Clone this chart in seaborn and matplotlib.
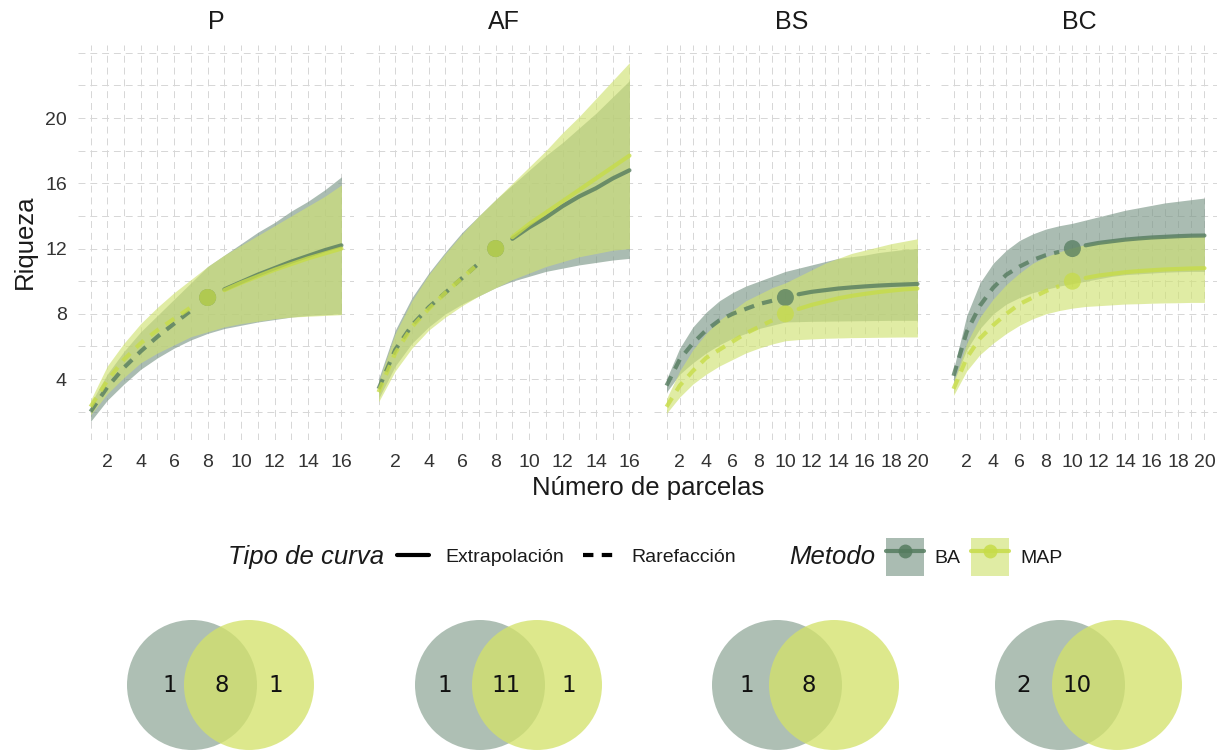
import numpy as np
import pandas as pd
import matplotlib
matplotlib.use("Agg")
import matplotlib.pyplot as plt
import seaborn as sns
from matplotlib.lines import Line2D
from matplotlib.patches import Patch, Circle

# ---------------------------------------------------------------------------
# Data: richness curves (rarefaction / extrapolation) per site and method
# ---------------------------------------------------------------------------
sitios = ["P", "AF", "BS", "BC"]
metodos = ["BA", "MAP"]
parcelas_obs = [8, 8, 10, 10]          # observed number of plots per site

# P  (m = 1..16)
p_ba_est = [2.0, 3.5, 4.7, 5.7, 6.6, 7.4, 8.2, 9.0, 9.5, 9.95, 10.4, 10.8, 11.2, 11.55, 11.9, 12.2]
p_ba_lo = [1.4, 2.7, 3.7, 4.6, 5.3, 5.9, 6.4, 6.8, 7.1, 7.3, 7.5, 7.65, 7.8, 7.9, 7.95, 8.0]
p_ba_hi = [2.5, 4.3, 5.7, 6.9, 7.9, 8.9, 9.9, 10.9, 11.6, 12.3, 13.0, 13.6, 14.3, 14.9, 15.6, 16.4]
p_map_est = [2.3, 3.9, 5.2, 6.2, 7.0, 7.7, 8.4, 9.0, 9.45, 9.9, 10.3, 10.7, 11.05, 11.4, 11.7, 12.0]
p_map_lo = [1.8, 3.1, 4.1, 5.0, 5.6, 6.1, 6.6, 6.9, 7.2, 7.4, 7.55, 7.7, 7.8, 7.85, 7.9, 7.95]
p_map_hi = [2.7, 4.8, 6.2, 7.4, 8.4, 9.3, 10.1, 10.9, 11.6, 12.2, 12.8, 13.4, 14.0, 14.6, 15.2, 15.9]

# AF (m = 1..16)
af_ba_est = [3.4, 5.8, 7.3, 8.4, 9.3, 10.2, 11.1, 12.0, 12.6, 13.3, 13.9, 14.6, 15.2, 15.7, 16.3, 16.8]
af_ba_lo = [2.8, 4.8, 6.2, 7.2, 8.0, 8.6, 9.1, 9.6, 10.0, 10.3, 10.6, 10.8, 11.0, 11.15, 11.3, 11.4]
af_ba_hi = [4.0, 7.0, 9.0, 10.5, 11.8, 13.0, 14.0, 15.0, 15.9, 16.8, 17.7, 18.5, 19.4, 20.3, 21.3, 22.3]
af_map_est = [3.2, 5.6, 7.2, 8.3, 9.3, 10.2, 11.1, 12.0, 12.7, 13.5, 14.2, 14.9, 15.6, 16.3, 17.0, 17.7]
af_map_lo = [2.6, 4.5, 5.9, 7.0, 7.8, 8.5, 9.1, 9.6, 10.1, 10.5, 10.9, 11.2, 11.5, 11.7, 11.9, 12.0]
af_map_hi = [3.8, 6.8, 8.8, 10.4, 11.7, 12.9, 14.0, 15.0, 16.0, 17.0, 18.0, 19.1, 20.1, 21.2, 22.3, 23.4]

# BS (m = 1..20)
bs_ba_est = [3.6, 5.2, 6.2, 7.0, 7.6, 8.0, 8.3, 8.6, 8.8, 9.0,
             9.2, 9.35, 9.45, 9.55, 9.62, 9.68, 9.73, 9.77, 9.8, 9.83]
bs_ba_lo = [3.2, 4.3, 5.0, 5.6, 6.1, 6.5, 6.8, 7.1, 7.3, 7.5,
            7.52, 7.54, 7.55, 7.56, 7.57, 7.58, 7.59, 7.6, 7.6, 7.6]
bs_ba_hi = [4.0, 5.9, 7.2, 8.1, 8.8, 9.3, 9.7, 10.0, 10.3, 10.6,
            10.8, 11.0, 11.2, 11.4, 11.5, 11.6, 11.75, 11.85, 11.95, 12.0]
bs_map_est = [2.3, 3.6, 4.5, 5.3, 5.8, 6.3, 6.8, 7.2, 7.6, 8.0,
              8.3, 8.55, 8.75, 8.95, 9.1, 9.22, 9.33, 9.42, 9.5, 9.55]
bs_map_lo = [1.9, 2.9, 3.7, 4.3, 4.8, 5.2, 5.6, 5.9, 6.15, 6.35,
             6.42, 6.46, 6.5, 6.52, 6.54, 6.55, 6.56, 6.57, 6.58, 6.58]
bs_map_hi = [2.8, 4.5, 5.8, 6.8, 7.6, 8.2, 8.8, 9.2, 9.6, 9.9,
             10.3, 10.7, 11.1, 11.4, 11.7, 11.9, 12.1, 12.3, 12.45, 12.6]

# BC (m = 1..20)
bc_ba_est = [4.2, 6.9, 8.5, 9.6, 10.4, 10.9, 11.3, 11.6, 11.8, 12.0,
             12.2, 12.35, 12.45, 12.55, 12.62, 12.68, 12.72, 12.76, 12.79, 12.8]
bc_ba_lo = [3.8, 5.8, 7.1, 8.0, 8.6, 9.0, 9.3, 9.5, 9.7, 9.85,
            10.0, 10.15, 10.3, 10.4, 10.45, 10.5, 10.55, 10.58, 10.6, 10.6]
bc_ba_hi = [4.6, 7.9, 9.9, 11.1, 11.9, 12.5, 12.9, 13.2, 13.4, 13.55,
            13.75, 13.95, 14.15, 14.35, 14.5, 14.65, 14.8, 14.9, 15.0, 15.1]
bc_map_est = [3.4, 5.3, 6.5, 7.3, 8.0, 8.6, 9.0, 9.4, 9.7, 10.0,
              10.2, 10.35, 10.45, 10.55, 10.62, 10.67, 10.72, 10.75, 10.78, 10.8]
bc_map_lo = [3.0, 4.5, 5.5, 6.2, 6.8, 7.3, 7.7, 8.0, 8.2, 8.35,
             8.45, 8.5, 8.55, 8.6, 8.62, 8.65, 8.67, 8.68, 8.7, 8.7]
bc_map_hi = [3.8, 6.2, 7.8, 8.9, 9.8, 10.5, 11.1, 11.5, 11.8, 12.05,
             12.25, 12.4, 12.5, 12.6, 12.65, 12.7, 12.72, 12.75, 12.78, 12.8]

# Shared species per site (Venn diagrams): only BA, both, only MAP
venn_solo_ba = [1, 1, 1, 2]
venn_ambos = [8, 11, 8, 10]
venn_solo_map = [1, 1, 0, 0]

x_ticks = {"P": [2, 4, 6, 8, 10, 12, 14, 16], "AF": [2, 4, 6, 8, 10, 12, 14, 16],
           "BS": list(range(2, 21, 2)), "BC": list(range(2, 21, 2))}
y_ticks = [4, 8, 12, 16, 20]

series = {
    ("P", "BA"): (p_ba_est, p_ba_lo, p_ba_hi), ("P", "MAP"): (p_map_est, p_map_lo, p_map_hi),
    ("AF", "BA"): (af_ba_est, af_ba_lo, af_ba_hi), ("AF", "MAP"): (af_map_est, af_map_lo, af_map_hi),
    ("BS", "BA"): (bs_ba_est, bs_ba_lo, bs_ba_hi), ("BS", "MAP"): (bs_map_est, bs_map_lo, bs_map_hi),
    ("BC", "BA"): (bc_ba_est, bc_ba_lo, bc_ba_hi), ("BC", "MAP"): (bc_map_est, bc_map_lo, bc_map_hi),
}

rows = []
for sitio, n_obs in zip(sitios, parcelas_obs):
    for met in metodos:
        est, lo, hi = series[(sitio, met)]
        for i, (e, l, h) in enumerate(zip(est, lo, hi)):
            m = i + 1
            tipo = "Rarefacción" if m < n_obs else ("Extrapolación" if m > n_obs else "Observado")
            rows.append(dict(Sitio=sitio, Metodo=met, m=m, qD=e, lo=l, hi=h, Tipo=tipo))
df = pd.DataFrame(rows)

# ---------------------------------------------------------------------------
# Styling
# ---------------------------------------------------------------------------
sns.set_theme(style="white")
plt.rcParams["font.family"] = ["Liberation Sans", "DejaVu Sans"]
plt.rcParams["lines.scale_dashes"] = False

fill_col = {"BA": "#7d9889", "MAP": "#d0e273"}
line_col = {"BA": "#557c5f", "MAP": "#c7dc49"}
band_alpha = 0.65
grid_col = "#d6d6d6"
text_col = "#333333"

fig = plt.figure(figsize=(12.25, 7.54), dpi=100)
W, H = 1225.0, 754.0

panel_left = [78, 366, 654, 941]
panel_w = 276
y_lim = (0.27, 24.5)
y_top_px, y_bot_px = 44.7, 439.9

for k, sitio in enumerate(sitios):
    ax = fig.add_axes([panel_left[k] / W, 1 - y_bot_px / H, panel_w / W, (y_bot_px - y_top_px) / H])
    d = df[df.Sitio == sitio]
    m_max = d.m.max()
    ax.set_xlim(1 - 0.05 * (m_max - 1), m_max + 0.05 * (m_max - 1))
    ax.set_ylim(*y_lim)

    for met in metodos:
        dm = d[d.Metodo == met]
        ax.fill_between(dm.m, dm.lo, dm.hi, color=fill_col[met], alpha=band_alpha, lw=0, zorder=2)

    lines = d[d.Tipo != "Observado"]
    sns.lineplot(data=lines, x="m", y="qD", hue="Metodo", style="Tipo",
                 palette=line_col, hue_order=metodos,
                 dashes={"Extrapolación": "", "Rarefacción": (7.5, 6.0)},
                 style_order=["Extrapolación", "Rarefacción"],
                 estimator=None, sort=True, linewidth=3.0, alpha=0.8,
                 legend=False, ax=ax, zorder=3)
    obs = d[d.Tipo == "Observado"]
    sns.scatterplot(data=obs, x="m", y="qD", hue="Metodo", palette=line_col, hue_order=metodos,
                    s=150, alpha=0.75, linewidth=0, legend=False, ax=ax, zorder=4)

    ax.set_xticks(x_ticks[sitio])
    ax.set_xticks(range(1, m_max + 1), minor=True)
    ax.set_yticks(y_ticks)
    ax.set_yticks([2, 6, 10, 14, 18, 22, 24], minor=True)
    ax.grid(True, which="both", color=grid_col, linestyle=(0, (5, 3.5)), linewidth=0.7, zorder=0)
    ax.set_axisbelow(True)
    for s in ax.spines.values():
        s.set_visible(False)
    ax.tick_params(which="both", length=0)
    ax.tick_params(axis="x", pad=10, labelsize=14, labelcolor=text_col)
    ax.tick_params(axis="y", pad=8, labelsize=14, labelcolor=text_col)
    if k > 0:
        ax.set_yticklabels([])
    ax.set_xlabel("")
    ax.set_ylabel("")
    ax.set_title(sitio, fontsize=18, color="#1a1a1a", pad=11)

fig.text(25 / W, 1 - 242 / H, "Riqueza", rotation=90, ha="center", va="center",
         fontsize=18.5, color="#1a1a1a")
fig.text(648 / W, 1 - 488 / H, "Número de parcelas", ha="center", va="center",
         fontsize=18.5, color="#1a1a1a")

# ---------------------------------------------------------------------------
# Legend row
# ---------------------------------------------------------------------------
leg_y = 1 - 557 / H
fig.text(228 / W, leg_y, "Tipo de curva", style="italic", ha="left", va="center",
         fontsize=18.5, color="#1a1a1a")
tipo_handles = [Line2D([], [], color="black", lw=3.0),
                Line2D([], [], color="black", lw=3.0, dashes=(7.5, 6.0))]
leg1 = fig.legend(tipo_handles, ["Extrapolación", "Rarefacción"], ncol=2,
                  loc="center left", bbox_to_anchor=(397 / W, leg_y), frameon=False,
                  fontsize=14, handlelength=1.65, handletextpad=0.85, columnspacing=0.95,
                  borderpad=0, borderaxespad=0)
for t in leg1.get_texts():
    t.set_color("#1a1a1a")

fig.text(789 / W, leg_y, "Metodo", style="italic", ha="left", va="center",
         fontsize=18.5, color="#1a1a1a")
met_handles = [(Patch(facecolor=fill_col[m], alpha=band_alpha, edgecolor="none"),
                Line2D([], [], color=line_col[m], lw=3.0, alpha=0.85, marker="o",
                       markersize=10, markeredgewidth=0))
               for m in metodos]
leg2 = fig.legend(met_handles, metodos, ncol=2, loc="center left",
                  bbox_to_anchor=(886 / W, leg_y), frameon=False, fontsize=14,
                  handlelength=1.95, handleheight=2.6, handletextpad=0.55,
                  columnspacing=0.55, borderpad=0, borderaxespad=0)
for t in leg2.get_texts():
    t.set_color("#1a1a1a")

# ---------------------------------------------------------------------------
# Venn diagrams (one per site)
# ---------------------------------------------------------------------------
venn_h = 160
axv = fig.add_axes([0, 0, 1, venn_h / H])
axv.set_xlim(0, W)
axv.set_ylim(0, venn_h)
axv.axis("off")

venn_cx = [192, 480, 777, 1060]          # centre of the BA circle
venn_cy = 69
venn_r = 65
venn_sep = 57
venn_lab_dx = [(-22, 30, 84), (-35, 26, 89), (-30, 32, 0), (-36, 17, 0)]
venn_ba_col = "#aebfb4"
venn_map_col = "#d3e26a"

for k in range(len(sitios)):
    cx = venn_cx[k]
    axv.add_patch(Circle((cx, venn_cy), venn_r, facecolor=venn_ba_col, edgecolor="none"))
    axv.add_patch(Circle((cx + venn_sep, venn_cy), venn_r, facecolor=venn_map_col,
                         edgecolor="none", alpha=0.77))
    dx_ba, dx_both, dx_map = venn_lab_dx[k]
    for val, dx in ((venn_solo_ba[k], dx_ba), (venn_ambos[k], dx_both), (venn_solo_map[k], dx_map)):
        if val > 0:
            axv.text(cx + dx, venn_cy, str(val), ha="center", va="center",
                     fontsize=16.5, family="DejaVu Sans", color="#111111")

fig.savefig("out.png", dpi=100)
